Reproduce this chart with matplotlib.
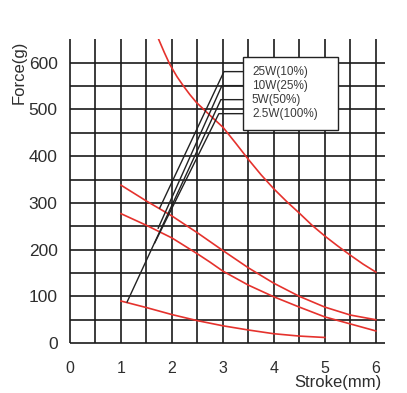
#!/usr/bin/env python3
"""Force vs stroke curves for a solenoid at four duty ratings."""

import matplotlib

matplotlib.use("Agg")
import matplotlib.pyplot as plt
from matplotlib.patches import Rectangle

plt.rcParams["font.family"] = ["Liberation Sans", "DejaVu Sans"]

# curve data (stroke in mm, force in g)
a_x = [1.72, 1.85, 1.96, 2.1, 2.22, 2.35, 2.48, 2.75, 3.0, 3.25, 3.5, 3.75,
       4.0, 4.25, 4.5, 4.75, 5.0, 5.25, 5.5, 5.75, 6.0]
a_y = [655, 622, 596, 570, 551, 532, 515, 487, 462, 428, 393, 360,
       330, 303, 278, 252, 229, 208, 188, 169, 152]

b_x = [1.0, 1.5, 2.0, 2.5, 3.0, 3.5, 4.0, 4.5, 5.0, 5.5, 6.0]
b_y = [338, 304, 272, 236, 198, 161, 128, 100, 77, 60, 50]

c_x = [1.0, 1.5, 2.0, 2.5, 2.75, 3.0, 3.5, 4.0, 4.5, 5.0, 5.5, 6.0]
c_y = [277, 252, 225, 191, 173, 154, 124, 99, 77, 56, 41, 26]

d_x = [1.0, 1.5, 2.0, 2.5, 3.0, 3.5, 4.0, 4.5, 5.0]
d_y = [90, 76, 61, 48, 37, 28, 20, 15, 12]

x_ticks = [0, 1, 2, 3, 4, 5, 6]
y_ticks = [0, 100, 200, 300, 400, 500, 600]

legend_labels = ["25W(10%)", "10W(25%)", "5W(50%)", "2.5W(100%)"]
# leader lines: level at the box, then end point on the chart
leader_y = [581, 551, 521, 491]
leader_bend_x = [3.02, 2.98, 2.96, 2.92]
leader_end_x = [1.76, 1.73, 1.12, 1.66]
leader_end_y = [289, 246, 88, 214]

RED = "#e5322d"
GRID = "#1a1a1a"
TEXT = "#2e2e2e"


def main() -> None:
    fig = plt.figure(figsize=(4.07, 3.93), dpi=100)
    ax = fig.add_axes([0.172, 0.127, 0.774, 0.774])

    xmax, ymax = 6.18, 651
    ax.set_xlim(0, xmax)
    ax.set_ylim(0, ymax)
    for s in ax.spines.values():
        s.set_visible(False)

    # grid every half mm and every 50 g
    gx = [i * 0.5 for i in range(13)]
    gy = [i * 50 for i in range(13)]
    ax.vlines(gx, 0, ymax, colors=GRID, linewidth=1.2, clip_on=False, zorder=1)
    ax.hlines(gy, 0, xmax, colors=GRID, linewidth=1.2, clip_on=False, zorder=1)

    ax.set_xticks(x_ticks)
    ax.set_yticks(y_ticks)
    ax.set_xticklabels([str(v) for v in x_ticks])
    ax.set_yticklabels([str(v) for v in y_ticks])
    ax.tick_params(axis="x", length=0, pad=13, labelsize=11.5, labelcolor=TEXT)
    ax.tick_params(axis="y", length=0, pad=9, labelsize=12.5, labelcolor=TEXT)

    for xs, ys in [(a_x, a_y), (b_x, b_y), (c_x, c_y), (d_x, d_y)]:
        ax.plot(xs, ys, color=RED, linewidth=1.2, zorder=3)

    # legend box with leader lines
    box_x0, box_x1 = 3.39, 5.25
    box_y0, box_y1 = 456, 613
    for lab, ly, bx, ex, ey in zip(
        legend_labels, leader_y, leader_bend_x, leader_end_x, leader_end_y
    ):
        ax.plot([box_x0, bx, ex], [ly, ly, ey], color="#222222", linewidth=1.0, zorder=4)
        ax.text(3.57, ly, lab, fontsize=8.5, color="#3a3a3a", va="center", ha="left", zorder=6)
    ax.add_patch(
        Rectangle(
            (box_x0, box_y0),
            box_x1 - box_x0,
            box_y1 - box_y0,
            facecolor="white",
            edgecolor="#222222",
            linewidth=1.0,
            zorder=5,
        )
    )

    ax.text(-0.16, 0.89, "Force(g)", transform=ax.transAxes, rotation=90,
            ha="center", va="center", fontsize=12, color=TEXT)
    ax.text(0.99, -0.13, "Stroke(mm)", transform=ax.transAxes,
            ha="right", va="center", fontsize=12, color=TEXT)

    fig.savefig("out.png", dpi=100)


if __name__ == "__main__":
    main()
